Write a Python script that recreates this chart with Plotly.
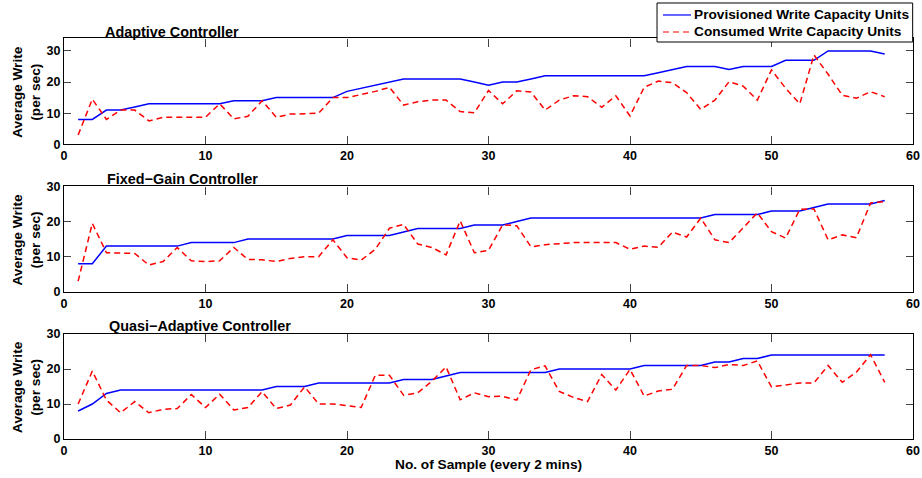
import plotly.graph_objects as go

# Sample index (one sample every 2 minutes)
samples = list(range(1, 59))

# Adaptive controller
adaptive_prov = [8, 8, 11, 11, 12, 13, 13, 13, 13, 13, 13, 14, 14, 14, 15, 15, 15, 15, 15, 17,
                 18, 19, 20, 21, 21, 21, 21, 21, 20, 19, 20, 20, 21, 22, 22, 22, 22, 22, 22, 22,
                 22, 23, 24, 25, 25, 25, 24, 25, 25, 25, 27, 27, 27, 30, 30, 30, 30, 29]
adaptive_cons = [3, 14.5, 8, 11, 11, 7.5, 8.7, 8.7, 8.7, 8.7, 13, 8.2, 9, 14, 8.7, 9.7, 9.8, 10, 15, 15,
                 16, 17, 18.3, 12.6, 13.7, 14.2, 14.2, 10.5, 10.1, 17.3, 13, 17.2, 16.8, 11, 14.2, 15.6, 15.3, 11.9, 15.6, 9.1,
                 18.3, 20.3, 19.8, 16.6, 11.2, 14.2, 20.1, 18.7, 14.2, 23.9, 18, 13, 28.7, 22.5, 15.8, 14.8, 16.9, 15.3]

# Fixed-gain controller
fixed_prov = [8, 8, 13, 13, 13, 13, 13, 13, 14, 14, 14, 14, 15, 15, 15, 15, 15, 15, 15, 16,
              16, 16, 16, 17, 18, 18, 18, 18, 19, 19, 19, 20, 21, 21, 21, 21, 21, 21, 21, 21,
              21, 21, 21, 21, 21, 22, 22, 22, 22, 23, 23, 23, 24, 25, 25, 25, 25, 26]
fixed_cons = [3, 19.5, 11.1, 11, 10.9, 7.6, 8.6, 12.6, 8.8, 8.6, 8.8, 12.6, 9.2, 9.1, 8.6, 9.5, 10, 10, 14.8, 9.7,
              9, 12.1, 18.1, 19.2, 13.6, 12.6, 10.5, 20.2, 11.1, 11.8, 19.1, 18.8, 12.8, 13.4, 13.8, 14, 14, 14, 14, 12.1,
              13, 12.7, 17, 15.6, 21, 14.8, 14, 18.2, 22.5, 17.1, 15.3, 23.5, 23.6, 14.8, 16.2, 15.4, 25.3, 25.7]

# Quasi-adaptive controller
quasi_prov = [8, 10, 13, 14, 14, 14, 14, 14, 14, 14, 14, 14, 14, 14, 15, 15, 15, 16, 16, 16,
              16, 16, 16, 17, 17, 17, 18, 19, 19, 19, 19, 19, 19, 19, 20, 20, 20, 20, 20, 20,
              21, 21, 21, 21, 21, 22, 22, 23, 23, 24, 24, 24, 24, 24, 24, 24, 24, 24]
quasi_cons = [10, 19.4, 11.1, 7.5, 10.7, 7.5, 8.5, 8.7, 12.7, 9, 12.8, 8.3, 9, 13.5, 8.7, 9.7, 14.9, 10, 10, 9.5,
              9, 18.2, 18.2, 12.5, 13.2, 16.5, 20.6, 11.2, 13.2, 12.1, 12.2, 11.1, 19.8, 20.9, 13.6, 11.9, 10.7, 18.4, 14, 19.9,
              12.3, 13.7, 14.2, 21, 21, 20.4, 21.3, 21, 22.3, 14.9, 15.4, 16, 16, 21, 16.2, 19.1, 24.1, 16.2]

panel_titles = ["Adaptive Controller", "Fixed\u2212Gain Controller", "Quasi\u2212Adaptive Controller"]
series_names = ["Provisioned Write Capacity Units", "Consumed Write Capacity Units"]
y_ranges = [[0, 34], [0, 30], [0, 30]]
x_ticks = [0, 10, 20, 30, 40, 50, 60]
y_ticks = [0, 10, 20, 30]
y_title = "Average Write<br>(per sec)"
x_title = "No. of Sample (every 2 mins)"

FONT = "Liberation Sans, Arial, Helvetica, sans-serif"
BLUE = "#0000ff"
RED = "#ff0000"
RED_DASH = "6px,4px"

panels = [(adaptive_prov, adaptive_cons), (fixed_prov, fixed_cons), (quasi_prov, quasi_cons)]
domains = [[0.7349, 0.9988], [0.3673, 0.6297], [0.0, 0.2618]]

fig = go.Figure()
for i, (prov, cons) in enumerate(panels):
    suffix = "" if i == 0 else str(i + 1)
    fig.add_trace(go.Scatter(
        x=samples, y=prov, mode="lines", name=series_names[0],
        line=dict(color=BLUE, width=1.5), showlegend=False,
        xaxis="x" + suffix, yaxis="y" + suffix))
    fig.add_trace(go.Scatter(
        x=samples, y=cons, mode="lines", name=series_names[1],
        line=dict(color=RED, width=1.5, dash=RED_DASH), showlegend=False,
        xaxis="x" + suffix, yaxis="y" + suffix))


def bold(size):
    return dict(family=FONT, size=size, color="black", weight="bold")


tick_font = bold(12.5)
label_font = bold(13.7)
title_font = bold(14.4)

layout = dict(
    width=922, height=478,
    margin=dict(l=64, r=9, t=38, b=39, autoexpand=False),
    paper_bgcolor="white", plot_bgcolor="white",
    font=label_font,
    showlegend=False,
)

annotations = []
for i in range(3):
    suffix = "" if i == 0 else str(i + 1)
    layout["xaxis" + suffix] = dict(
        domain=[0, 1], range=[0, 60], anchor="y" + suffix,
        tickvals=x_ticks, ticks="inside", ticklen=8, tickcolor="#444444", tickwidth=1,
        showline=True, linecolor="black", linewidth=1.2, mirror="ticks",
        showgrid=False, zeroline=False, tickfont=tick_font,
    )
    layout["yaxis" + suffix] = dict(
        domain=domains[i], range=y_ranges[i], anchor="x" + suffix,
        tickvals=y_ticks, ticks="inside", ticklen=7, tickcolor="#444444", tickwidth=1,
        showline=True, linecolor="black", linewidth=1.2, mirror="ticks",
        showgrid=False, zeroline=False, tickfont=tick_font,
    )
    annotations.append(dict(
        text=y_title, textangle=-90, xref="paper", yref="y" + suffix + " domain",
        x=-0.0442, y=0.5, xanchor="center", yanchor="middle", showarrow=False,
        font=label_font,
    ))

title_pos = [(0.0459, 1.015), (0.0483, 0.6484), (0.0506, 0.2825)]
for t, (tx, ty) in zip(panel_titles, title_pos):
    annotations.append(dict(
        text=t, xref="paper", yref="paper", x=tx, y=ty,
        xanchor="left", yanchor="middle", showarrow=False, font=title_font,
    ))

annotations.append(dict(
    text=x_title, xref="paper", yref="paper", x=0.5, y=-0.0648,
    xanchor="center", yanchor="middle", showarrow=False, font=label_font,
))

# Legend box drawn in the top-right corner above the first panel
legend_box = dict(x0=0.6985, x1=0.9996, y0=0.990, y1=1.0873)
legend_rows = [(series_names[0], BLUE, "solid", 1.0574),
               (series_names[1], RED, RED_DASH, 1.0150)]
shapes = [dict(type="rect", xref="paper", yref="paper", layer="above",
               line=dict(color="black", width=1), fillcolor="white", **legend_box)]
for name, color, dash, ly in legend_rows:
    shapes.append(dict(type="line", xref="paper", yref="paper", layer="above",
                       x0=0.7055, x1=0.7385, y0=ly, y1=ly,
                       line=dict(color=color, width=1.2, dash=dash)))
    annotations.append(dict(
        text=name, xref="paper", yref="paper", x=0.7397, y=ly,
        xanchor="left", yanchor="middle", showarrow=False, font=label_font,
    ))

layout["annotations"] = annotations
layout["shapes"] = shapes
fig.update_layout(**layout)
fig.write_html("out.html")
